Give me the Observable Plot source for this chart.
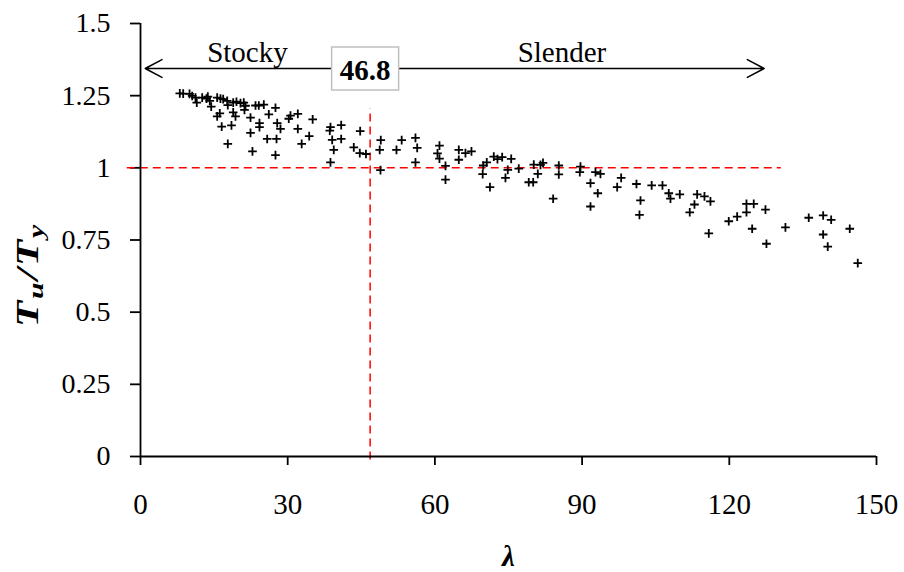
<!DOCTYPE html>
<html>
<head>
<meta charset="utf-8">
<script src="https://cdn.jsdelivr.net/npm/d3@7"></script>
<script src="https://cdn.jsdelivr.net/npm/@observablehq/plot@0.6"></script>
<style>
  html, body { margin: 0; padding: 0; background: #fff; }
  #chart svg { display: block; }
</style>
</head>
<body>
<div id="chart"></div>
<script>
// Slenderness ratio λ of each specimen
const lambda = [
  8.01, 8.70, 9.99, 10.54, 11.21, 11.47, 12.57, 13.45, 13.72, 14.12,
  14.41, 15.63, 16.30, 16.85, 17.67, 17.79, 18.89, 19.56, 20.38, 21.05,
  21.40, 21.19, 23.44, 24.11, 25.13, 27.51, 26.15, 16.16, 15.63, 18.89,
  19.36, 22.42, 24.25, 24.25, 27.86, 28.53, 16.55, 18.54, 22.42, 25.82,
  27.72, 17.79, 22.82, 27.51, 30.22, 30.57, 32.06, 32.06, 35.09, 34.38, 32.85,
  38.72, 38.58, 40.90, 39.07, 40.90, 39.39, 38.72, 44.77, 43.47, 44.69,
  45.95, 48.97, 48.75, 48.91, 52.17, 53.23, 56.04, 56.39, 56.04, 60.93,
  60.53, 60.93, 62.16, 62.16, 64.87, 64.87, 66.23, 67.45,
  69.84, 69.74, 70.57, 71.22, 72.00, 72.75, 73.71, 75.55, 74.85, 74.38,
  77.09, 80.15, 82.03, 81.52, 80.97, 79.13, 80.03, 84.10, 85.25, 85.25,
  89.67, 89.53, 92.73, 93.74, 91.71, 93.19, 91.71, 97.96, 97.15, 101.08,
  101.90, 101.69, 104.18, 106.38,
  107.66, 108.01, 109.91, 113.45, 114.94, 116.16, 112.90, 111.94, 115.82, 119.89,
  121.60, 123.50, 123.50, 124.98, 127.37, 124.66, 127.57, 131.44, 136.19, 139.13,
  140.76, 139.13, 140.06, 144.55, 146.18
];
// Ultimate / yield tension ratio Tu/Ty
const ratio = [
  1.258, 1.257, 1.256, 1.249, 1.243, 1.226, 1.243, 1.240, 1.247, 1.232,
  1.212, 1.243, 1.240, 1.238, 1.232, 1.217, 1.226, 1.229, 1.224, 1.226,
  1.215, 1.201, 1.216, 1.216, 1.219, 1.208, 1.185, 1.189, 1.178, 1.192,
  1.178, 1.174, 1.155, 1.141, 1.155, 1.135, 1.143, 1.147, 1.121, 1.100,
  1.100, 1.083, 1.057, 1.044, 1.170, 1.181, 1.187, 1.135, 1.168, 1.110, 1.083,
  1.141, 1.129, 1.148, 1.097, 1.100, 1.062, 1.019, 1.127, 1.071, 1.051,
  1.048, 1.096, 1.062, 0.992, 1.062, 1.096, 1.104, 1.069, 1.019, 1.077,
  1.050, 1.032, 1.007, 0.959, 1.062, 1.028, 1.051, 1.057,
  1.008, 0.978, 1.019, 0.933, 1.039, 1.030, 1.037, 1.031, 0.993, 0.965,
  0.997, 1.011, 1.017, 1.010, 0.979, 0.950, 0.950, 0.893, 1.008, 0.977,
  1.004, 0.985, 0.985, 0.979, 0.947, 0.912, 0.866, 0.965, 0.933, 0.944,
  0.887, 0.837, 0.939, 0.939,
  0.912, 0.893, 0.908, 0.908, 0.901, 0.884, 0.873, 0.846, 0.773, 0.815,
  0.831, 0.846, 0.875, 0.875, 0.855, 0.789, 0.737, 0.794, 0.827, 0.835,
  0.820, 0.769, 0.727, 0.789, 0.670
];
const xTicks = [0, 30, 60, 90, 120, 150];
const yTicks = [0, 0.25, 0.5, 0.75, 1, 1.25, 1.5];
const limitLambda = 46.8;          // stocky / slender boundary
const unityRatio = 1;               // Tu/Ty = 1
const regionLabels = ["Stocky", "Slender"];

const points = lambda.map((x, i) => ({x, y: ratio[i]}));

const ARROW_Y = 1.344;
const boxSymbol = {
  draw(context) { context.rect(-33.5, -21.5, 67, 43); }
};

const chart = Plot.plot({
  width: 904,
  height: 572,
  marginLeft: 140,
  marginRight: 28,
  marginTop: 23,
  marginBottom: 116,
  style: {
    fontFamily: "'Liberation Serif', 'Times New Roman', serif",
    fontSize: "28px",
    color: "#000",
    background: "#fff",
    overflow: "visible"
  },
  x: {domain: [0, 150]},
  y: {domain: [0, 1.5]},
  marks: [
    Plot.axisX({ticks: xTicks, tickSize: 9, tickPadding: 28, label: null, strokeWidth: 1.8,
      fontSize: 29, tickFormat: d => String(d)}),
    Plot.axisY({ticks: yTicks, tickSize: 10, tickPadding: 20, label: null, strokeWidth: 1.8,
      fontSize: 28, tickFormat: d => String(d)}),
    // reference lines
    Plot.ruleY([unityRatio], {x1: -2.7, x2: 130.6, stroke: "#ff0000", strokeWidth: 1.5, strokeDasharray: "8,5"}),
    Plot.ruleX([limitLambda], {y1: -0.012, y2: 1.205, stroke: "#ff0000", strokeWidth: 1.5, strokeDasharray: "8,5"}),
    // axis lines
    Plot.ruleX([0], {stroke: "#000", strokeWidth: 1.8}),
    Plot.ruleY([0], {stroke: "#000", strokeWidth: 1.8}),
    // data
    Plot.dot(points, {x: "x", y: "y", symbol: "plus", r: 2.9, stroke: "#000", strokeWidth: 1.8}),
    // stocky / slender arrows
    Plot.arrow([{a: limitLambda, b: 0.96}, {a: limitLambda, b: 127.1}], {
      x1: "a", x2: "b", y1: () => ARROW_Y, y2: () => ARROW_Y,
      stroke: "#000", strokeWidth: 1.5, headLength: 19, headAngle: 56
    }),
    Plot.text(regionLabels, {
      x: [21.8, 85.9], y: () => 1.368, text: d => d, lineAnchor: "bottom", fill: "#000", fontSize: 29
    }),
    Plot.dot([limitLambda], {
      x: d => d, y: () => ARROW_Y, symbol: boxSymbol, fill: "#fff", stroke: "#c0c0c0", strokeWidth: 1.5, dx: -5
    }),
    Plot.text([limitLambda], {
      x: d => d, y: () => ARROW_Y, text: d => d.toFixed(1), fontWeight: "bold", dx: -5, dy: 2, fill: "#000", fontSize: 29
    }),
    // x-axis title
    Plot.text(["λ"], {
      frameAnchor: "bottom", text: d => d, lineAnchor: "bottom", dy: 109,
      fontWeight: "bold", fontStyle: "italic", fill: "#000", fontSize: 29
    })
  ]
});

// y-axis title with subscripts
const svg = d3.select(chart);
const yl = svg.append("text")
  .attr("transform", "translate(38,275) rotate(-90) scale(1.35,1)")
  .attr("text-anchor", "middle")
  .attr("fill", "#000")
  .style("font-weight", "bold")
  .style("font-style", "italic")
  .style("font-size", "32px")
  .style("letter-spacing", "1.5px");
yl.append("tspan").text("T");
yl.append("tspan").attr("dy", 5).style("font-size", "22px").text("u");
yl.append("tspan").attr("dy", -5).text("/T");
yl.append("tspan").attr("dy", 5).style("font-size", "22px").text("y");

document.getElementById("chart").appendChild(chart);
</script>
</body>
</html>
